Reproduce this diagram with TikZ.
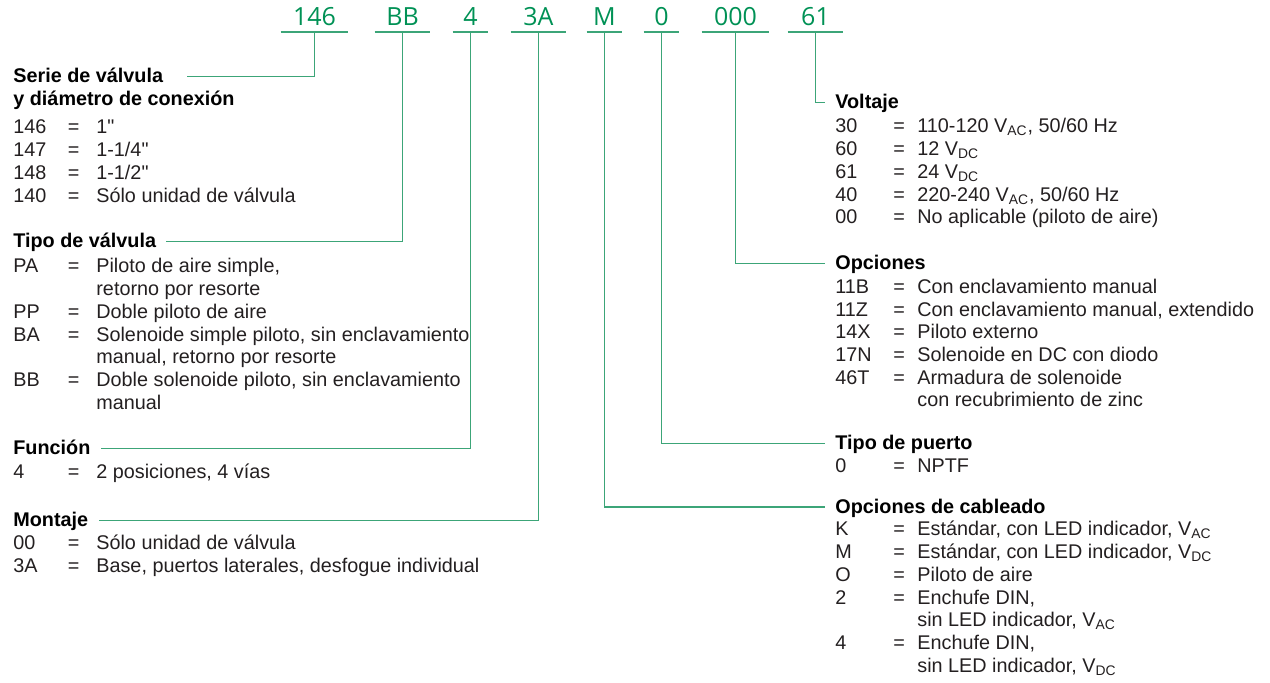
\documentclass[tikz,border=0pt]{standalone}
\usepackage{fontspec}
\setmainfont{Liberation Sans}
\newfontfamily\codefont{Open Sans}

\definecolor{codegreen}{RGB}{0,145,85}
\definecolor{linegreen}{RGB}{60,165,120}
\definecolor{bodytext}{RGB}{35,31,32}

\newcommand{\listfont}{\fontsize{9.9pt}{11.35pt}\selectfont}
\newcommand{\vac}{V\textsubscript{AC}}
\newcommand{\vdc}{V\textsubscript{DC}}
\newcommand{\inch}{\textquotedbl}

\tikzset{
    code/.style      = {font=\codefont\fontsize{12.5pt}{14pt}\selectfont, text=codegreen,
                        anchor=south, inner xsep=0pt, inner ysep=3pt, text depth=0pt},
    underline/.style = {draw=linegreen, line width=0.9pt},
    leader/.style    = {draw=linegreen, line width=0.65pt},
    heading/.style   = {font=\listfont\bfseries, anchor=base west, inner xsep=5pt,
                        inner ysep=0pt, text height=6.5pt, text depth=0pt},
    codelist/.style  = {font=\listfont, text=bodytext, anchor=base west, inner sep=0pt}
}

\begin{document}
\begin{tikzpicture}[x=0.5pt, y=-0.5pt]
    \useasboundingbox (0,0) rectangle (1270,683);

    % Order code
    \node[code, minimum width=33.5pt] (c146) at (314.5,32) {146};
    \node[code, minimum width=27.5pt] (cBB)  at (402.5,32) {BB};
    \node[code, minimum width=17.5pt] (c4)   at (470.5,32) {4};
    \node[code, minimum width=27.5pt] (c3A)  at (538.5,32) {3A};
    \node[code, minimum width=17.5pt] (cM)   at (604.5,32) {M};
    \node[code, minimum width=17.5pt] (c0)   at (661.5,32) {0};
    \node[code, minimum width=33.5pt] (c000) at (735.5,32) {000};
    \node[code, minimum width=27.5pt] (c61)  at (815.5,32) {61};

    \draw[underline] (c146.south west) -- (c146.south east);
    \draw[underline] (cBB.south west)  -- (cBB.south east);
    \draw[underline] (c4.south west)   -- (c4.south east);
    \draw[underline] (c3A.south west)  -- (c3A.south east);
    \draw[underline] (cM.south west)   -- (cM.south east);
    \draw[underline] (c0.south west)   -- (c0.south east);
    \draw[underline] (c000.south west) -- (c000.south east);
    \draw[underline] (c61.south west)  -- (c61.south east);

    % Left column
    \node[heading] (hserie)  at (3,83)    {Serie de válvula};
    \node[heading] (hserie2) at (3,105.5) {y diámetro de conexión};
    \node[codelist] (lserie) at (13,134) {\begin{tabular}[t]{@{}p{27.25pt}@{}p{14.25pt}@{}l@{}}
        146 & = & 1\inch \\
        147 & = & 1-1/4\inch \\
        148 & = & 1-1/2\inch \\
        140 & = & Sólo unidad de válvula
    \end{tabular}};

    \node[heading] (htipo) at (3,248) {Tipo de válvula};
    \node[codelist] (ltipo) at (13,273) {\begin{tabular}[t]{@{}p{27.25pt}@{}p{14.25pt}@{}l@{}}
        PA & = & Piloto de aire simple, \\
           &   & retorno por resorte \\
        PP & = & Doble piloto de aire \\
        BA & = & Solenoide simple piloto, sin enclavamiento \\
           &   & manual, retorno por resorte \\
        BB & = & Doble solenoide piloto, sin enclavamiento \\
           &   & manual
    \end{tabular}};

    \node[heading] (hfunc) at (3,455) {Función};
    \node[codelist] (lfunc) at (13,478.5) {\begin{tabular}[t]{@{}p{27.25pt}@{}p{14.25pt}@{}l@{}}
        4 & = & 2 posiciones, 4 vías
    \end{tabular}};

    \node[heading] (hmont) at (3,527) {Montaje};
    \node[codelist] (lmont) at (13,550) {\begin{tabular}[t]{@{}p{27.25pt}@{}p{14.25pt}@{}l@{}}
        00 & = & Sólo unidad de válvula \\
        3A & = & Base, puertos laterales, desfogue individual
    \end{tabular}};

    % Right column
    \node[heading] (hvolt) at (825,109) {Voltaje};
    \node[codelist] (lvolt) at (835,133) {\begin{tabular}[t]{@{}p{29pt}@{}p{12pt}@{}l@{}}
        30 & = & 110-120 \vac, 50/60 Hz \\
        60 & = & 12 \vdc \\
        61 & = & 24 \vdc \\
        40 & = & 220-240 \vac, 50/60 Hz \\
        00 & = & No aplicable (piloto de aire)
    \end{tabular}};

    \node[heading] (hopc) at (825,270) {Opciones};
    \node[codelist] (lopc) at (835,293.5) {\begin{tabular}[t]{@{}p{29pt}@{}p{12pt}@{}l@{}}
        11B & = & Con enclavamiento manual \\
        11Z & = & Con enclavamiento manual, extendido \\
        14X & = & Piloto externo \\
        17N & = & Solenoide en DC con diodo \\
        46T & = & Armadura de solenoide \\
            &   & con recubrimiento de zinc
    \end{tabular}};

    \node[heading] (hpuerto) at (825,450) {Tipo de puerto};
    \node[codelist] (lpuerto) at (835,473) {\begin{tabular}[t]{@{}p{29pt}@{}p{12pt}@{}l@{}}
        0 & = & NPTF
    \end{tabular}};

    \node[heading] (hcable) at (825,513.5) {Opciones de cableado};
    \node[codelist] (lcable) at (835,536) {\begin{tabular}[t]{@{}p{29pt}@{}p{12pt}@{}l@{}}
        K & = & Estándar, con LED indicador, \vac \\
        M & = & Estándar, con LED indicador, \vdc \\
        O & = & Piloto de aire \\
        2 & = & Enchufe DIN, \\
          &   & sin LED indicador, \vac \\
        4 & = & Enchufe DIN, \\
          &   & sin LED indicador, \vdc
    \end{tabular}};

    % Leaders from code to heading
    \draw[leader] (c146.south) |- ([xshift=7pt]hserie.east);
    \draw[leader] (cBB.south)  |- (htipo.east);
    \draw[leader] (c4.south)   |- (hfunc.east);
    \draw[leader] (c3A.south)  |- (hmont.east);
    \draw[leader] (cM.south)   |- (hcable.west);
    \draw[leader] (c0.south)   |- (hpuerto.west);
    \draw[leader] (c000.south) |- (hopc.west);
    \draw[leader] (c61.south)  |- (hvolt.west);
\end{tikzpicture}
\end{document}
